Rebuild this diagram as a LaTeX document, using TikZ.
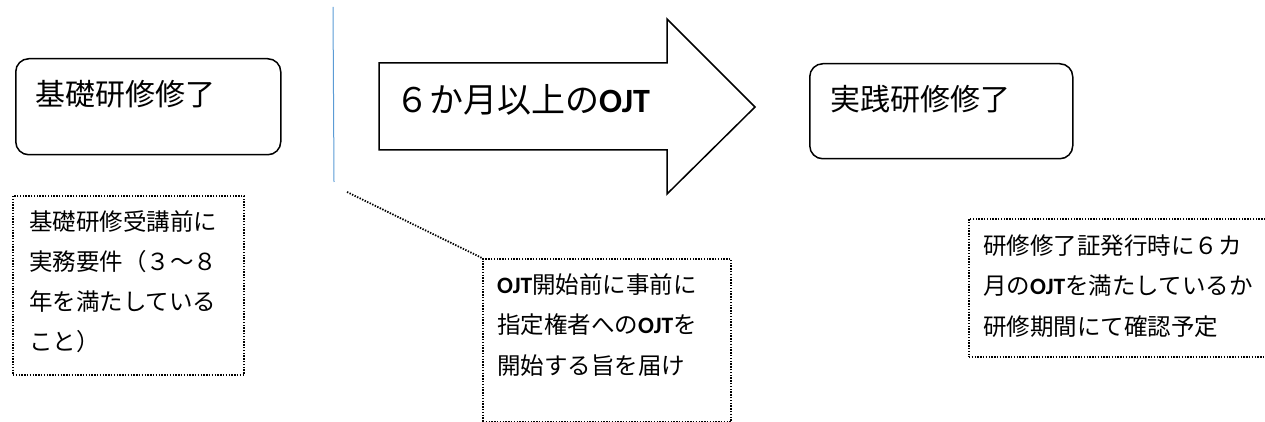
\documentclass[tikz,border=0pt]{standalone}
\usepackage{fontspec}
\setmainfont{Noto Sans CJK JP}
\newfontfamily\lat{Carlito}
\newcommand{\ojt}{{\lat\bfseries OJT}}
\definecolor{accent}{HTML}{5B9BD5}
\begin{document}
\begin{tikzpicture}[x=1pt,y=-1pt,
  box/.style={draw=black, line width=1.5pt, rounded corners=13pt, inner sep=0pt, anchor=north west},
  note/.style={draw=black, line width=1.8pt, dash pattern=on 1.4pt off 1.4pt},
  notebox/.style={note, inner sep=0pt, anchor=north west},
  arrowshape/.style={draw=black, line width=1.5pt, line join=miter},
  bigtxt/.style={anchor=base west, inner sep=0pt, font=\fontsize{30}{36}\selectfont},
  arrtxt/.style={anchor=base west, inner sep=0pt, font=\fontsize{34}{40}\selectfont},
  smalltxt/.style={anchor=base west, inner sep=0pt, font=\fontsize{23.5}{28}\selectfont},
  vline/.style={draw=accent, line width=1pt},
]
\useasboundingbox (0,0) rectangle (1265,422);
\clip (0,0) rectangle (1265,422);

% rounded boxes
\node[box, minimum width=265pt, minimum height=96pt] (b1) at (15,58) {};
\node[bigtxt] (b1t) at (35,106) {基礎研修修了};
\node[box, minimum width=263pt, minimum height=95pt] (b3) at (809,63) {};
\node[bigtxt] (b3t) at (830,111) {実践研修修了};

% big arrow
\coordinate (a1) at (379,63);
\coordinate (a2) at (667,63);
\coordinate (a3) at (667,19);
\coordinate (a4) at (755,107);
\coordinate (a5) at (667,194);
\coordinate (a6) at (667,150);
\coordinate (a7) at (379,150);
\draw[arrowshape] (a1) -- (a2) -- (a3) -- (a4) -- (a5) -- (a6) -- (a7) -- cycle;
\node[arrtxt] (at) at (395,113) {６か月以上の\ojt};

% blue vertical line
\coordinate (v1) at (333,7);
\coordinate (v2) at (334,182);
\draw[vline] (v1) -- (v2);

% note 1
\node[notebox, minimum width=231pt, minimum height=179pt] (n1) at (12,195) {};
\node[smalltxt] (n1a) at (29,230) {基礎研修受講前に};
\node[smalltxt] (n1b) at (29,270) {実務要件（３～８};
\node[smalltxt] (n1c) at (29,310) {年を満たしている};
\node[smalltxt] (n1d) at (29,350) {こと）};

% note 2 with callout line
\node[notebox, minimum width=248pt, minimum height=163pt] (n2) at (482,258) {};
\coordinate (cs) at (347,192);
\draw[note] (cs) -- (n2.north west);
\node[smalltxt] (n2a) at (497,293) {\ojt 開始前に事前に};
\node[smalltxt] (n2b) at (497,333) {指定権者への\ojt を};
\node[smalltxt] (n2c) at (497,374) {開始する旨を届け};

% note 3
\node[notebox, minimum width=320pt, minimum height=138pt] (n3) at (968,218) {};
\node[smalltxt] (n3a) at (983,254) {研修修了証発行時に６カ};
\node[smalltxt] (n3b) at (983,294) {月の\ojt を満たしているか};
\node[smalltxt] (n3c) at (983,335) {研修期間にて確認予定};
\end{tikzpicture}
\end{document}
